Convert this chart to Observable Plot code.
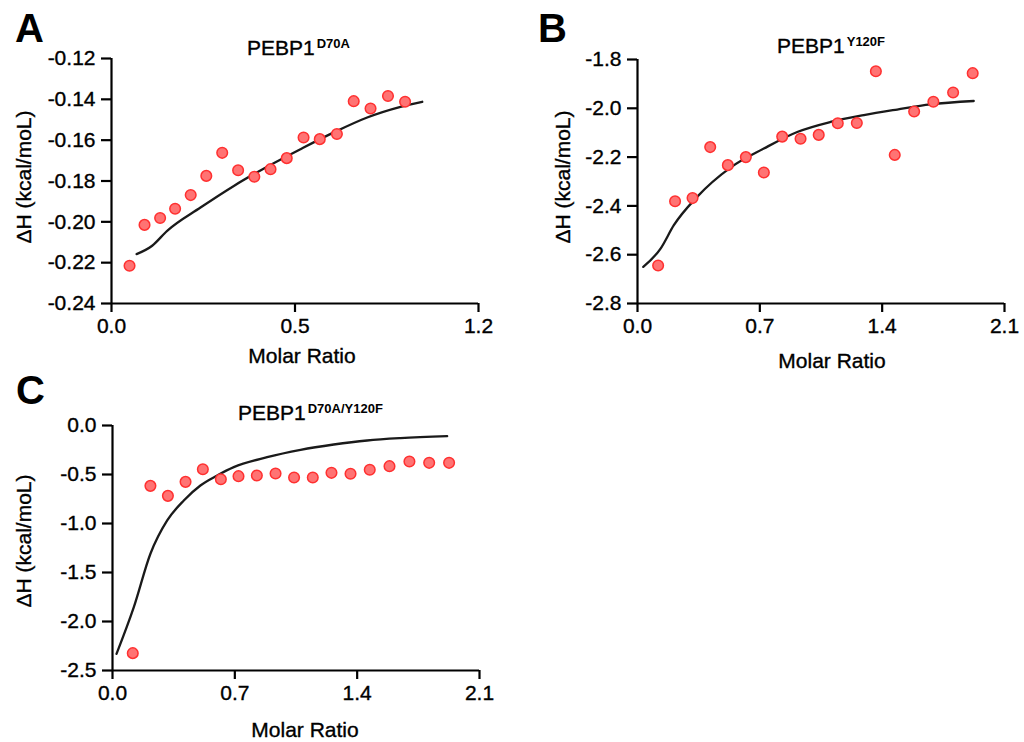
<!DOCTYPE html>
<html>
<head>
<meta charset="utf-8">
<script src="https://cdn.jsdelivr.net/npm/d3@7"></script>
<script src="https://cdn.jsdelivr.net/npm/@observablehq/plot@0.6"></script>
<style>
  html, body { margin: 0; padding: 0; background: #fff; }
  body { width: 1024px; height: 742px; position: relative; overflow: hidden;
         font-family: 'Liberation Sans', Arial, sans-serif; color: #000; }
  .panel { position: absolute; }
  .txt { position: absolute; line-height: 1; white-space: nowrap; -webkit-text-stroke: 0.35px #000; }
  .letter { font-size: 40px; font-weight: bold; -webkit-text-stroke: 0; }
  .title { font-size: 21px; }
  .title span { font-size: 13px; font-weight: bold; position: relative; top: -7px; margin-left: 2px; -webkit-text-stroke: 0; }
  .xlab { font-size: 21px; transform: translateX(-50%); }
  .ylab { font-size: 21px; transform: translate(-50%, -50%) rotate(-90deg); }
  .panel svg [aria-label$="tick"] { stroke-width: 2.2px; }
  .panel svg [aria-label$="tick label"] text { stroke: #000; stroke-width: 0.35px; }
</style>
</head>
<body>
<div id="pA" class="panel" style="left:0px;top:0px"></div>
<div id="pB" class="panel" style="left:510px;top:0px"></div>
<div id="pC" class="panel" style="left:0px;top:370px"></div>

<div class="txt letter" style="left:15px;top:8px">A</div>
<div class="txt letter" style="left:538px;top:8px">B</div>
<div class="txt letter" style="left:16px;top:370px">C</div>

<div class="txt title" style="left:247px;top:37px">PEBP1<span>D70A</span></div>
<div class="txt title" style="left:777px;top:35px">PEBP1<span>Y120F</span></div>
<div class="txt title" style="left:238px;top:402px">PEBP1<span>D70A/Y120F</span></div>

<div class="txt xlab" style="left:302px;top:345px">Molar Ratio</div>
<div class="txt xlab" style="left:832px;top:350px">Molar Ratio</div>
<div class="txt xlab" style="left:305px;top:719px">Molar Ratio</div>

<div class="txt ylab" style="left:23px;top:177px">ΔH (kcal/moL)</div>
<div class="txt ylab" style="left:562px;top:177px">ΔH (kcal/moL)</div>
<div class="txt ylab" style="left:23px;top:541px">ΔH (kcal/moL)</div>

<script>
// ---- Panel A: PEBP1 D70A ----
const xA = [0.059,0.108,0.159,0.208,0.259,0.310,0.362,0.414,0.467,0.520,0.573,0.628,0.681,0.737,0.792,0.847,0.904,0.960];
const yA = [-0.2215,-0.2015,-0.1981,-0.1936,-0.1869,-0.1775,-0.1662,-0.1747,-0.1779,-0.1742,-0.1688,-0.1587,-0.1595,-0.1570,-0.1409,-0.1445,-0.1384,-0.1412];
const fitXA = [0.082,0.133,0.182,0.291,0.400,0.509,0.618,0.727,0.836,0.945,1.016];
const fitYA = [-0.2158,-0.2117,-0.2044,-0.1930,-0.1824,-0.1730,-0.1644,-0.1562,-0.1489,-0.1437,-0.1412];
const xTicksA = [0, 0.6, 1.2];
const xTickLabelsA = ["0.0", "0.5", "1.2"];
const yTicksA = [-0.24,-0.22,-0.20,-0.18,-0.16,-0.14,-0.12];

// ---- Panel B: PEBP1 Y120F ----
const xB = [0.118,0.215,0.315,0.416,0.517,0.620,0.723,0.828,0.933,1.037,1.146,1.255,1.364,1.472,1.583,1.693,1.806,1.918];
const yB = [-2.644,-2.381,-2.368,-2.159,-2.233,-2.200,-2.263,-2.116,-2.125,-2.109,-2.061,-2.060,-1.848,-2.191,-2.013,-1.973,-1.935,-1.856];
const fitXB = [0.033,0.132,0.208,0.341,0.532,0.723,0.914,1.104,1.295,1.486,1.676,1.924];
const fitYB = [-2.650,-2.575,-2.479,-2.363,-2.243,-2.165,-2.097,-2.056,-2.028,-2.005,-1.984,-1.970];
const xTicksB = [0, 0.7, 1.4, 2.1];
const xTickLabelsB = ["0.0", "0.7", "1.4", "2.1"];
const yTicksB = [-2.8,-2.6,-2.4,-2.2,-2.0,-1.8];

// ---- Panel C: PEBP1 D70A/Y120F ----
const xC = [0.116,0.217,0.317,0.418,0.517,0.620,0.721,0.826,0.933,1.039,1.146,1.253,1.362,1.472,1.585,1.699,1.812,1.926];
const yC = [-2.323,-0.616,-0.718,-0.575,-0.446,-0.548,-0.517,-0.510,-0.490,-0.531,-0.531,-0.483,-0.493,-0.452,-0.415,-0.367,-0.381,-0.381];
const fitXC = [0.023,0.122,0.217,0.313,0.408,0.503,0.599,0.694,0.885,1.076,1.266,1.457,1.648,1.915];
const fitYC = [-2.330,-1.854,-1.309,-0.969,-0.765,-0.612,-0.510,-0.425,-0.323,-0.248,-0.194,-0.153,-0.129,-0.109];
const xTicksC = [0, 0.7, 1.4, 2.1];
const xTickLabelsC = ["0.0", "0.7", "1.4", "2.1"];
const yTicksC = [-2.5,-2.0,-1.5,-1.0,-0.5,0.0];

function panel(o) {
  const pts = o.xs.map((x, i) => ({x, y: o.ys[i]}));
  const fit = o.fx.map((x, i) => ({x, y: o.fy[i]}));
  return Plot.plot({
    width: o.width, height: o.height,
    marginLeft: o.ml, marginRight: o.mr, marginTop: o.mt, marginBottom: o.mb,
    style: {fontFamily: "'Liberation Sans', Arial, sans-serif", fontSize: "21px", color: "#000", background: "transparent", overflow: "visible"},
    x: {domain: o.xDomain},
    y: {domain: o.yDomain},
    marks: [
      Plot.axisX({ticks: o.xTicks, tickFormat: d => o.xLabels[o.xTicks.indexOf(d)], tickSize: 9, tickPadding: 6, strokeWidth: 2.2, label: null}),
      Plot.axisY({ticks: o.yTicks, tickFormat: o.yFmt, tickSize: 10, tickPadding: 6, strokeWidth: 2.2, label: null}),
      Plot.ruleX([o.xDomain[0]], {strokeWidth: 2.2}),
      Plot.ruleY([o.yDomain[0]], {strokeWidth: 2.2}),
      Plot.line(fit, {x: "x", y: "y", curve: "monotone-x", stroke: "#1a1a1a", strokeWidth: 2.3}),
      Plot.dot(pts, {x: "x", y: "y", r: 5.3, fill: "#ff7373", stroke: "#ff3030", strokeWidth: 1.5})
    ]
  });
}

document.getElementById("pA").append(panel({
  xs: xA, ys: yA, fx: fitXA, fy: fitYA,
  xDomain: [0, 1.2], yDomain: [-0.24, -0.12],
  xTicks: xTicksA, xLabels: xTickLabelsA, yTicks: yTicksA, yFmt: d => d.toFixed(2),
  width: 500, height: 370, ml: 111, mr: 22, mt: 58, mb: 67
}));
document.getElementById("pB").append(panel({
  xs: xB, ys: yB, fx: fitXB, fy: fitYB,
  xDomain: [0, 2.1], yDomain: [-2.8, -1.8],
  xTicks: xTicksB, xLabels: xTickLabelsB, yTicks: yTicksB, yFmt: d => d.toFixed(1),
  width: 514, height: 370, ml: 127, mr: 20, mt: 59, mb: 67
}));
document.getElementById("pC").append(panel({
  xs: xC, ys: yC, fx: fitXC, fy: fitYC,
  xDomain: [0, 2.1], yDomain: [-2.5, 0],
  xTicks: xTicksC, xLabels: xTickLabelsC, yTicks: yTicksC, yFmt: d => Math.abs(d) < 1e-9 ? "0.0" : d.toFixed(1),
  width: 500, height: 372, ml: 112, mr: 21, mt: 55, mb: 72
}));
</script>
</body>
</html>
